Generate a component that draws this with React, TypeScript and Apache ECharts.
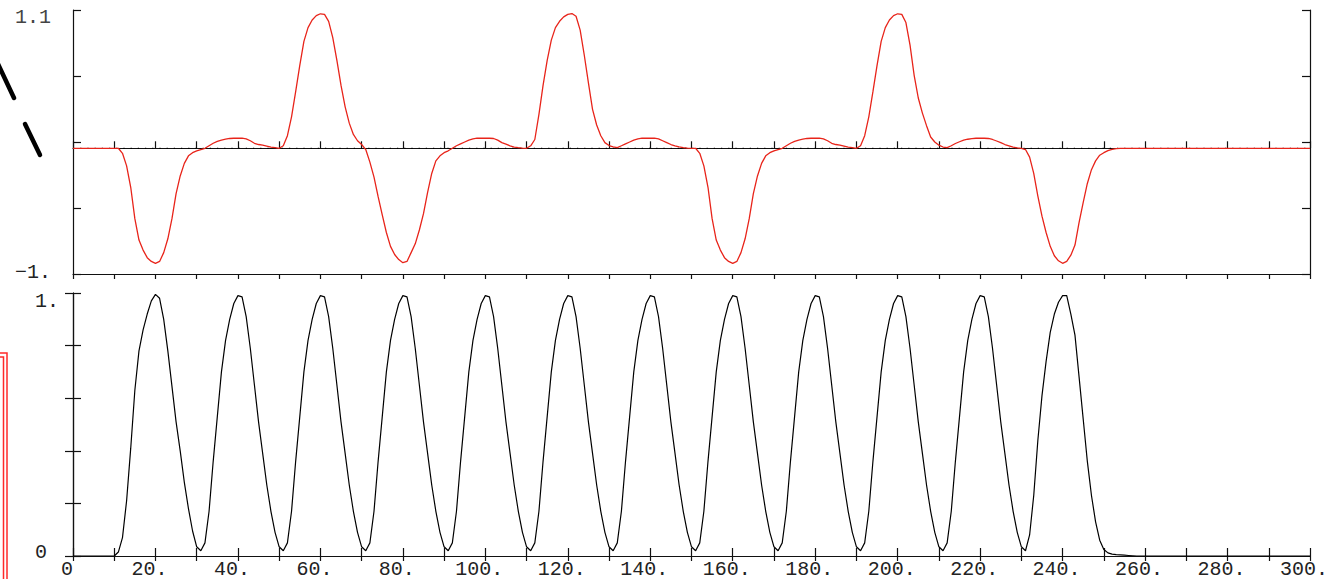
import React, { useEffect, useRef } from "react";
import * as echarts from "echarts";

// Top panel: red waveform sampled at x = 0,1,2,...,300
const topValues: number[] = [
  0, 0, 0, 0, 0, 0, 0, 0, 0, 0,
  0, 0, -0.04, -0.14, -0.31, -0.56, -0.73, -0.81, -0.87, -0.9,
  -0.915, -0.9, -0.83, -0.72, -0.56, -0.36, -0.22, -0.12, -0.06, -0.035,
  -0.02, -0.01, 0, 0.02, 0.04, 0.055, 0.065, 0.072, 0.078, 0.08,
  0.08, 0.08, 0.075, 0.06, 0.04, 0.03, 0.025, 0.018, 0.01, 0.005,
  0, 0.02, 0.1, 0.25, 0.45, 0.66, 0.85, 0.96, 1.02, 1.055,
  1.07, 1.065, 1.01, 0.88, 0.7, 0.5, 0.33, 0.2, 0.11, 0.06,
  0.03, -0.01, -0.11, -0.23, -0.385, -0.53, -0.67, -0.78, -0.845, -0.885,
  -0.91, -0.9, -0.83, -0.76, -0.65, -0.52, -0.35, -0.2, -0.1, -0.06,
  -0.035, -0.02, 0, 0.02, 0.035, 0.05, 0.065, 0.075, 0.08, 0.08,
  0.08, 0.08, 0.078, 0.065, 0.045, 0.033, 0.02, 0.01, 0.005, 0.002,
  0, 0.02, 0.07, 0.27, 0.5, 0.7, 0.86, 0.96, 1.01, 1.045,
  1.065, 1.072, 1.05, 0.94, 0.74, 0.52, 0.31, 0.185, 0.1, 0.045,
  0.022, 0.012, 0.006, 0.02, 0.035, 0.05, 0.065, 0.075, 0.08, 0.08,
  0.08, 0.08, 0.075, 0.06, 0.045, 0.03, 0.02, 0.012, 0.006, 0.002,
  0, 0, -0.04, -0.14, -0.31, -0.56, -0.73, -0.81, -0.87, -0.9,
  -0.915, -0.9, -0.83, -0.72, -0.56, -0.36, -0.22, -0.12, -0.06, -0.035,
  -0.02, -0.01, 0, 0.02, 0.04, 0.055, 0.065, 0.072, 0.078, 0.08,
  0.08, 0.08, 0.075, 0.06, 0.04, 0.03, 0.025, 0.018, 0.01, 0.005,
  0, 0.02, 0.1, 0.25, 0.45, 0.66, 0.85, 0.96, 1.02, 1.055,
  1.07, 1.065, 1.0, 0.82, 0.58, 0.4, 0.28, 0.18, 0.09, 0.05,
  0.025, 0.01, 0.005, 0.02, 0.038, 0.052, 0.065, 0.072, 0.077, 0.08,
  0.08, 0.08, 0.078, 0.07, 0.058, 0.045, 0.03, 0.02, 0.01, 0.004,
  0, -0.01, -0.07, -0.2, -0.38, -0.54, -0.67, -0.78, -0.855, -0.895,
  -0.915, -0.9, -0.85, -0.77, -0.59, -0.43, -0.28, -0.17, -0.1, -0.055,
  -0.035, -0.018, -0.008, -0.003, 0, 0, 0, 0, 0, 0,
  0, 0, 0, 0, 0, 0, 0, 0, 0, 0,
  0, 0, 0, 0, 0, 0, 0, 0, 0, 0,
  0, 0, 0, 0, 0, 0, 0, 0, 0, 0,
  0, 0, 0, 0, 0, 0, 0, 0, 0, 0,
  0,
];

// Bottom panel: black pulse train sampled at x = 0,1,2,...,300
const bottomValues: number[] = [
  0, 0, 0, 0, 0, 0, 0, 0, 0, 0,
  0, 0.015, 0.07, 0.21, 0.41, 0.63, 0.78, 0.86, 0.92, 0.97,
  0.995, 0.98, 0.9, 0.78, 0.645, 0.51, 0.4, 0.28, 0.18, 0.095,
  0.035, 0.02, 0.05, 0.17, 0.36, 0.53, 0.7, 0.82, 0.9, 0.96,
  0.99, 0.985, 0.91, 0.79, 0.65, 0.51, 0.39, 0.27, 0.17, 0.09,
  0.035, 0.02, 0.05, 0.17, 0.36, 0.53, 0.7, 0.82, 0.9, 0.96,
  0.99, 0.985, 0.91, 0.79, 0.65, 0.51, 0.39, 0.27, 0.17, 0.09,
  0.035, 0.02, 0.05, 0.17, 0.36, 0.53, 0.7, 0.82, 0.9, 0.96,
  0.99, 0.985, 0.91, 0.79, 0.65, 0.51, 0.39, 0.27, 0.17, 0.09,
  0.035, 0.02, 0.05, 0.17, 0.36, 0.53, 0.7, 0.82, 0.9, 0.96,
  0.99, 0.985, 0.91, 0.79, 0.65, 0.51, 0.39, 0.27, 0.17, 0.09,
  0.035, 0.02, 0.05, 0.17, 0.36, 0.53, 0.7, 0.82, 0.9, 0.96,
  0.99, 0.985, 0.91, 0.79, 0.65, 0.51, 0.39, 0.27, 0.17, 0.09,
  0.035, 0.02, 0.05, 0.17, 0.36, 0.53, 0.7, 0.82, 0.9, 0.96,
  0.99, 0.985, 0.91, 0.79, 0.65, 0.51, 0.39, 0.27, 0.17, 0.09,
  0.035, 0.02, 0.05, 0.17, 0.36, 0.53, 0.7, 0.82, 0.9, 0.96,
  0.99, 0.985, 0.91, 0.79, 0.65, 0.51, 0.39, 0.27, 0.17, 0.09,
  0.035, 0.02, 0.05, 0.17, 0.36, 0.53, 0.7, 0.82, 0.9, 0.96,
  0.99, 0.985, 0.91, 0.79, 0.65, 0.51, 0.39, 0.27, 0.17, 0.09,
  0.035, 0.02, 0.05, 0.17, 0.36, 0.53, 0.7, 0.82, 0.9, 0.96,
  0.99, 0.985, 0.91, 0.79, 0.65, 0.51, 0.39, 0.27, 0.17, 0.09,
  0.035, 0.02, 0.05, 0.17, 0.36, 0.53, 0.7, 0.82, 0.9, 0.96,
  0.99, 0.985, 0.91, 0.79, 0.65, 0.51, 0.39, 0.27, 0.17, 0.09,
  0.035, 0.02, 0.08, 0.23, 0.44, 0.61, 0.74, 0.85, 0.92, 0.965,
  0.99, 0.99, 0.92, 0.84, 0.68, 0.52, 0.36, 0.23, 0.13, 0.06,
  0.025, 0.012, 0.007, 0.005, 0.004, 0.003, 0.002, 0.001, 0, 0,
  0, 0, 0, 0, 0, 0, 0, 0, 0, 0,
  0, 0, 0, 0, 0, 0, 0, 0, 0, 0,
  0, 0, 0, 0, 0, 0, 0, 0, 0, 0,
  0, 0, 0, 0, 0, 0, 0, 0, 0, 0,
  0,
];

const xStart = 0;
const xStep = 1;
const xMin = 0;
const xMax = 300;
const xTickStep = 10;
const topYMin = -1;
const topYMax = 1.1;
const topYLabels = { max: "1.1", min: "\u22121." };
const bottomYMin = 0;
const bottomYMax = 1;
const bottomYTickStep = 0.2;
const bottomYLabels = { max: "1.", min: "0" };
const zeroLine = [
  [xMin, 0],
  [xMax, 0],
];

const FONT = "Liberation Mono";
const FS = 20;
const AXIS_COLOR = "#111";

export default function App() {
  const ref = useRef<HTMLDivElement>(null);

  useEffect(() => {
    document.body.style.margin = "0";
    if (!ref.current) return;
    const chart = echarts.init(ref.current, undefined, { renderer: "svg" });

    const topData = topValues.map((v, i) => [xStart + i * xStep, v]);
    const bottomData = bottomValues.map((v, i) => [xStart + i * xStep, v]);

    const axisLine = { show: true, lineStyle: { color: AXIS_COLOR, width: 1.2 } };

    const xBase = (gridIndex: number, position: string, tickLen: number, showLabel: boolean) => ({
      type: "value",
      gridIndex,
      position,
      min: xMin,
      max: xMax,
      interval: xTickStep,
      axisLine,
      axisTick: { show: true, inside: true, length: tickLen, lineStyle: { color: AXIS_COLOR, width: 1.2 } },
      splitLine: { show: false },
      axisLabel: showLabel
        ? {
            show: true,
            margin: 3,
            color: "#222",
            fontFamily: FONT,
            fontSize: FS,
            padding: [0, 12, 0, 0],
            showMinLabel: true,
            showMaxLabel: true,
            formatter: (v: number) => {
              const r = Math.round(v);
              if (r === 0) return "0";
              return r % 20 === 0 ? r + "." : "";
            },
          }
        : { show: false },
    });

    const near = (a: number, b: number) => Math.abs(a - b) < 1e-6;

    const option: any = {
      animation: false,
      backgroundColor: "#ffffff",
      grid: [
        { left: 73, top: 10, width: 1237, height: 264, containLabel: false },
        { left: 73, top: 293, width: 1237, height: 263, containLabel: false },
      ],
      xAxis: [
        xBase(0, "bottom", 7, false),
        xBase(0, "top", 5, false),
        xBase(1, "bottom", 8, true),
        xBase(1, "top", 5, false),
      ],
      yAxis: [
        {
          type: "value",
          gridIndex: 0,
          position: "left",
          min: topYMin,
          max: topYMax,
          axisLine: { show: false },
          axisTick: { show: false },
          splitLine: { show: false },
          axisLabel: {
            show: true,
            showMinLabel: true,
            showMaxLabel: true,
            margin: 58,
            align: "left",
            color: "#333",
            fontFamily: FONT,
            fontSize: FS,
            formatter: (v: number) =>
              near(v, topYMax) ? "{t|" + topYLabels.max + "}" : near(v, topYMin) ? "{b|" + topYLabels.min + "}" : "",
            rich: {
              t: { padding: [14, 0, 0, 0], fontFamily: FONT, fontSize: FS, color: "#444" },
              b: { padding: [0, 0, 4, 0], fontFamily: FONT, fontSize: FS, color: "#222" },
            },
          },
        },
        {
          type: "value",
          gridIndex: 0,
          position: "left",
          min: 0,
          max: 4,
          interval: 1,
          axisLine,
          axisTick: { show: true, inside: true, length: 8, lineStyle: { color: AXIS_COLOR, width: 1.2 } },
          splitLine: { show: false },
          axisLabel: { show: false },
        },
        {
          type: "value",
          gridIndex: 0,
          position: "right",
          min: 0,
          max: 4,
          interval: 1,
          axisLine,
          axisTick: { show: true, inside: true, length: 8, lineStyle: { color: AXIS_COLOR, width: 1.2 } },
          splitLine: { show: false },
          axisLabel: { show: false },
        },
        {
          type: "value",
          gridIndex: 1,
          position: "left",
          min: bottomYMin,
          max: bottomYMax,
          interval: bottomYTickStep,
          axisLine,
          axisTick: { show: true, inside: true, length: 8, lineStyle: { color: AXIS_COLOR, width: 1.2 } },
          splitLine: { show: false },
          axisLabel: {
            show: true,
            showMinLabel: true,
            showMaxLabel: true,
            margin: 38,
            align: "left",
            color: "#222",
            fontFamily: FONT,
            fontSize: FS,
            formatter: (v: number) =>
              near(v, bottomYMax) ? "{t|" + bottomYLabels.max + "}" : near(v, bottomYMin) ? "{b|" + bottomYLabels.min + "}" : "",
            rich: {
              t: { padding: [16, 0, 0, 0], fontFamily: FONT, fontSize: FS, color: "#222" },
              b: { padding: [0, 0, 8, 0], fontFamily: FONT, fontSize: FS, color: "#222" },
            },
          },
        },
        {
          type: "value",
          gridIndex: 1,
          position: "right",
          min: bottomYMin,
          max: bottomYMax,
          interval: bottomYTickStep,
          axisLine,
          axisTick: { show: true, inside: true, length: 8, lineStyle: { color: AXIS_COLOR, width: 1.2 } },
          splitLine: { show: false },
          axisLabel: { show: false },
        },
      ],
      series: [
        {
          type: "line",
          xAxisIndex: 0,
          yAxisIndex: 0,
          data: zeroLine,
          symbol: "none",
          silent: true,
          z: 1,
          lineStyle: { color: "#000", width: 1.2, type: [1.2, 6] },
        },
        {
          type: "line",
          xAxisIndex: 0,
          yAxisIndex: 0,
          data: topData,
          symbol: "none",
          z: 3,
          lineStyle: { color: "#e8241a", width: 1.3 },
        },
        {
          type: "line",
          xAxisIndex: 2,
          yAxisIndex: 3,
          data: bottomData,
          symbol: "none",
          z: 3,
          lineStyle: { color: "#000", width: 1.2 },
        },
      ],
      graphic: [
        {
          type: "line",
          shape: { x1: -2, y1: 64, x2: 14, y2: 98 },
          style: { stroke: "#000", lineWidth: 4.5, lineCap: "round" },
        },
        {
          type: "line",
          shape: { x1: 25, y1: 124, x2: 40, y2: 155 },
          style: { stroke: "#000", lineWidth: 4.5, lineCap: "round" },
        },
        {
          type: "rect",
          shape: { x: -10, y: 353, width: 17, height: 300 },
          style: { stroke: "#ff2a2a", fill: "none", lineWidth: 1.5 },
        },
        {
          type: "rect",
          shape: { x: -10, y: 357, width: 13.5, height: 300 },
          style: { stroke: "#ff2a2a", fill: "none", lineWidth: 1.5 },
        },
      ],
    };

    chart.setOption(option);
    return () => chart.dispose();
  }, []);

  return <div ref={ref} style={{ width: 1335, height: 579 }} />;
}
